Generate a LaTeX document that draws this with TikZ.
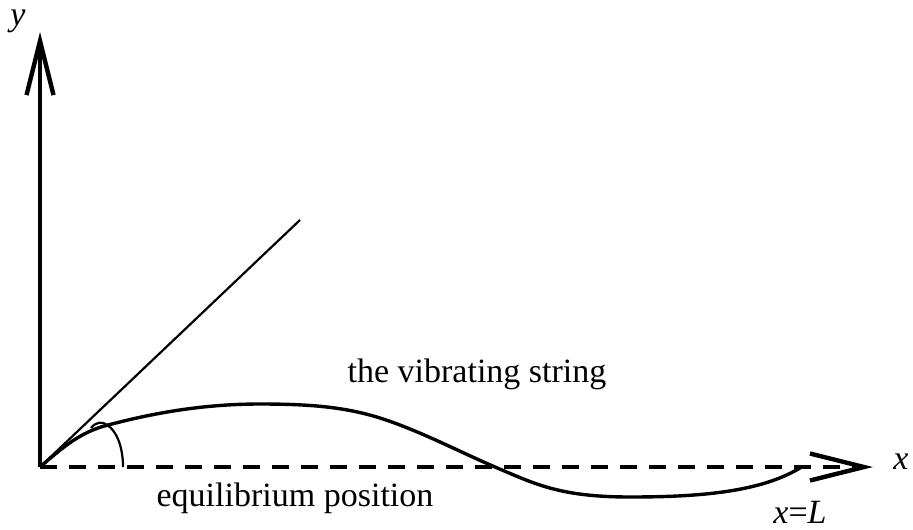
\documentclass[tikz,border=0pt]{standalone}
\usepackage{fontspec}
\setmainfont{Liberation Serif}
\usetikzlibrary{arrows.meta}
\begin{document}
\begin{tikzpicture}[x=0.5pt,y=-0.5pt]
  \tikzset{axis line/.style={line width=1.6pt,-{Straight Barb[length=27pt,width=13.5pt,line width=2.2pt]}},
    string line/.style={line width=1.7pt},
    thin line/.style={line width=1.1pt},
    label text/.style={font=\fontsize{17}{20}\selectfont,inner sep=0pt,anchor=base}}
  \useasboundingbox (0,0) rectangle (913,529);
  \coordinate (O) at (40,467);
  \coordinate (ytip) at (40,32);
  \coordinate (xtip) at (873,467);
  \coordinate (tangent) at (300,220);
  \coordinate (L) at (800,468);
  % axes
  \draw[axis line] (O) -- (ytip);
  \draw[axis line,line width=2pt,dash pattern=on 8.5pt off 6pt] (O) -- (xtip);
  \draw[thin line] (O) -- (tangent);
  % the string
  \draw[string line] (O) .. controls (62,448) and (80,432) .. (108,425)
    .. controls (150,414) and (200,404) .. (260,404)
    .. controls (310,404) and (345,407) .. (380,418)
    .. controls (418,430) and (460,452) .. (495,467)
    .. controls (535,484) and (560,497) .. (630,497)
    .. controls (700,497) and (760,492) .. (L);
  % angle mark
  \draw[thin line] (123,467) .. controls (123,446) and (116,430) .. (107,425)
    .. controls (102,421) and (96,422) .. (91,428);
  \node[label text] (ylab) at (18,26) {\textit{y}};
  \node[label text] (xlab) at (901,469) {\textit{x}};
  \node[label text] (Llab) at (800,523) {\textit{x}=\textit{L}};
  \node[label text] (vib) at (477,382) {the vibrating string};
  \node[label text] (equi) at (295,506) {equilibrium position};
\end{tikzpicture}
\end{document}
